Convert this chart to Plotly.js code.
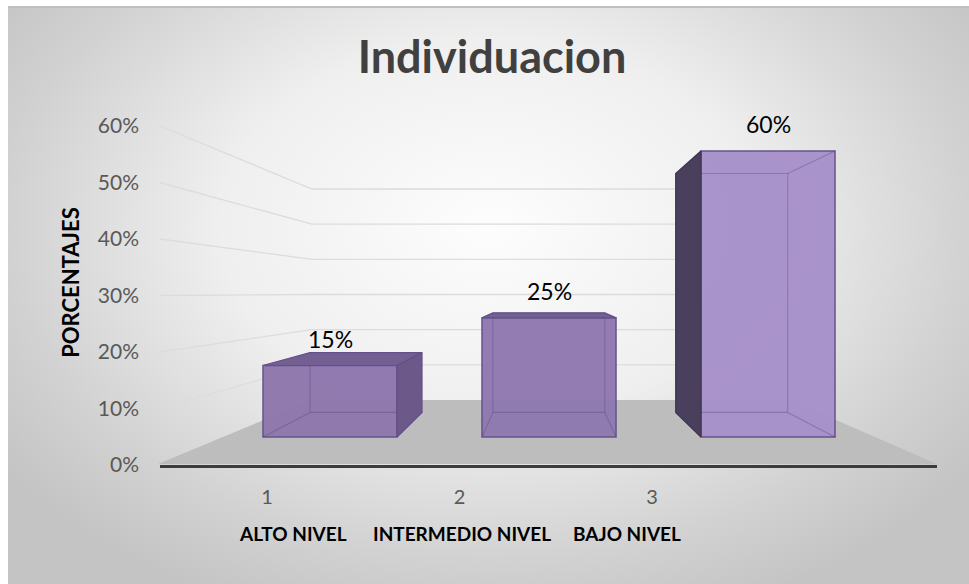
<!DOCTYPE html>
<html><head><meta charset="utf-8">
<script src="https://cdn.plot.ly/plotly-3.0.1.min.js"></script>
<style>
html,body{margin:0;padding:0;background:#fff;overflow:hidden;}
#bg{position:absolute;left:8px;top:6px;width:961px;height:578px;box-sizing:border-box;
background:radial-gradient(ellipse 62% 72% at 50% 38%, #fdfdfd 0%, #efefef 45%, #d2d2d2 80%, #c4c4c4 100%);
border-top:2px solid #c0c0c0;}
#chart{position:absolute;left:0;top:0;width:969px;height:584px;}
</style></head><body>
<div id="bg"></div><div id="chart"></div>
<script>
// ---- data ----
const categories = ['ALTO NIVEL', 'INTERMEDIO NIVEL', 'BAJO NIVEL'];
const tickLabels = ['1', '2', '3'];
const values = [0.15, 0.25, 0.60];
const yTicks = [0, 0.1, 0.2, 0.3, 0.4, 0.5, 0.6];
const yTickLabels = ['0%', '10%', '20%', '30%', '40%', '50%', '60%'];

// ---- geometry (style) ----
const W = 969, H = 584;
const M = {l: 160, r: 32, t: 100, b: 119};
const PW = W - M.l - M.r, PH = H - M.t - M.b;
const xp = px => (px - M.l) / PW;
const yp = py => (M.t + PH - py) / PH;

const idx = values.map((v, i) => i);
const HW = 0.306;             // half bar width (category units)
const VP = {x: 0.995, y: 0.3126}; // vanishing point in bar-axis units
const K = 0.835;              // depth scale of back face
const back = (x, y) => [VP.x + K * (x - VP.x), VP.y + K * (y - VP.y)];

const frontColors = ['#8e77ad', '#8f79b0', '#a791ca'];
const edgeColor = '#62508a';

// hidden edges (back rectangle + depth edges) and visible side/top faces
let ex = [], ey = [];
let topX = [], topY = [], rX = [], rY = [], lX = [], lY = [];
idx.forEach(i => {
  const v = values[i];
  const x0 = i - HW, x1 = i + HW;
  const bBL = back(x0, 0), bBR = back(x1, 0), bTL = back(x0, v), bTR = back(x1, v);
  ex.push(bBL[0], bBR[0], bTR[0], bTL[0], bBL[0], null); ey.push(bBL[1], bBR[1], bTR[1], bTL[1], bBL[1], null);
  [[x0, 0, bBL], [x1, 0, bBR], [x0, v, bTL], [x1, v, bTR]].forEach(c => {
    ex.push(c[0], c[2][0], null); ey.push(c[1], c[2][1], null);
  });
  if (v < VP.y) { topX.push(x0, x1, bTR[0], bTL[0], x0, null); topY.push(v, v, bTR[1], bTL[1], v, null); }
  if (x1 < VP.x) { rX.push(x1, x1, bTR[0], bBR[0], x1, null); rY.push(0, v, bTR[1], bBR[1], 0, null); }
  if (x0 > VP.x) { lX.push(x0, x0, bTL[0], bBL[0], x0, null); lY.push(0, v, bTL[1], bBL[1], 0, null); }
});

const traces = [
  {type: 'bar', x: idx, y: values, width: 2 * HW, xaxis: 'x2', yaxis: 'y2',
   marker: {color: frontColors, opacity: 0.97, line: {color: edgeColor, width: 1.5}},
   hoverinfo: 'skip', showlegend: false},
  {type: 'scatter', mode: 'lines', x: ex, y: ey, xaxis: 'x2', yaxis: 'y2',
   line: {color: 'rgba(85,65,125,0.35)', width: 1.1}, hoverinfo: 'skip', showlegend: false},
  {type: 'scatter', mode: 'lines', x: topX, y: topY, xaxis: 'x2', yaxis: 'y2', fill: 'toself',
   fillcolor: '#735f92', line: {color: edgeColor, width: 1.2}, hoverinfo: 'skip', showlegend: false},
  {type: 'scatter', mode: 'lines', x: rX, y: rY, xaxis: 'x2', yaxis: 'y2', fill: 'toself',
   fillcolor: '#6c5889', line: {color: edgeColor, width: 1.2}, hoverinfo: 'skip', showlegend: false},
  {type: 'scatter', mode: 'lines', x: lX, y: lY, xaxis: 'x2', yaxis: 'y2', fill: 'toself',
   fillcolor: '#4a3f5d', line: {color: '#3f3552', width: 1.2}, hoverinfo: 'skip', showlegend: false}
];

// walls / floor decoration
const shapes = [{type: 'path', xref: 'paper', yref: 'paper', layer: 'below',
  path: `M ${xp(158)} ${yp(464)} L ${xp(937)} ${yp(464)} L ${xp(790)} ${yp(400)} L ${xp(312)} ${yp(400)} Z`,
  fillcolor: '#bdbdbd', line: {width: 0}}];
yTicks.filter(v => v > 0).forEach(v => {
  const fy = 465 - 565 * v, by = 400 - 351.7 * v;
  shapes.push({type: 'path', xref: 'paper', yref: 'paper', layer: 'below',
    path: `M ${xp(160)} ${yp(fy)} L ${xp(312)} ${yp(by)} L ${xp(790)} ${yp(by)}`,
    line: {color: '#dcdcdc', width: 1.3}});
});

const catPos = [1.135, 2.013, 2.87];
const annotations = categories.map((c, i) => ({
  text: '<b>' + c + '</b>', xref: 'x', yref: 'paper', x: catPos[i], y: yp(533),
  xanchor: 'center', yanchor: 'middle', showarrow: false,
  font: {family: 'Lato, sans-serif', size: 19, color: '#000'}}));
values.forEach((v, i) => annotations.push({
  text: Math.round(v * 100) + '%', xref: 'x2', yref: 'y2', x: i, y: v,
  xanchor: 'center', yanchor: 'middle', yshift: 27, showarrow: false,
  font: {family: 'Lato, sans-serif', size: 23, color: '#000'}}));

const layout = {
  width: W, height: H, margin: M,
  paper_bgcolor: 'rgba(0,0,0,0)', plot_bgcolor: 'rgba(0,0,0,0)',
  showlegend: false,
  title: {text: '<b>Individuacion</b>', x: 492 / W, xref: 'container', xanchor: 'center',
          y: 1 - 57 / H, yref: 'container', yanchor: 'middle',
          font: {family: 'Lato, sans-serif', size: 45, color: '#404040'}},
  xaxis: {range: [0.4442, 4.4805], tickvals: [1, 2, 3], ticktext: tickLabels, showgrid: false, zeroline: false,
          showline: true, linecolor: '#3c3c3c', linewidth: 3, ticks: '', ticklabelstandoff: 12,
          tickfont: {family: 'Lato, sans-serif', size: 20, color: '#595959'}, fixedrange: true},
  yaxis: {range: [0, PH / 565], tickvals: yTicks, ticktext: yTickLabels, showgrid: false, zeroline: false,
          showline: false, ticks: '', ticklabelstandoff: 20,
          tickfont: {family: 'Lato, sans-serif', size: 21, color: '#595959'},
          title: {text: '<b>PORCENTAJES</b>', standoff: 12, font: {family: 'Lato, sans-serif', size: 22, color: '#000'}}},
  xaxis2: {overlaying: 'x', range: [-0.7763, 2.7717], visible: false, fixedrange: true},
  yaxis2: {overlaying: 'y', range: [-0.0587, 0.7069], visible: false, fixedrange: true},
  shapes: shapes, annotations: annotations, bargap: 0
};
Plotly.newPlot('chart', traces, layout, {staticPlot: true, displayModeBar: false});
</script></body></html>
